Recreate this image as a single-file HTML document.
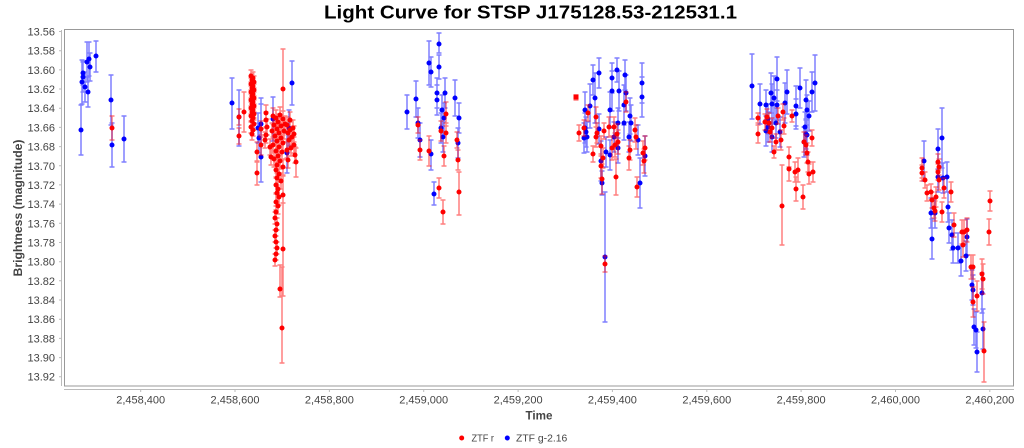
<!DOCTYPE html>
<html><head><meta charset="utf-8"><style>
html,body{margin:0;padding:0;background:#fff;}
svg{display:block;font-family:"Liberation Sans",Arial,sans-serif;}
</style></head><body>
<svg width="1024" height="448" viewBox="0 0 1024 448" xmlns="http://www.w3.org/2000/svg">
<rect width="1024" height="448" fill="#fff"/>
<text x="530.5" y="18.5" font-size="18" font-weight="bold" text-anchor="middle" textLength="413" lengthAdjust="spacingAndGlyphs" fill="#000">Light Curve for STSP J175128.53-212531.1</text>
<rect x="64.5" y="29.5" width="949" height="356.5" fill="#fff" stroke="#999" stroke-width="1"/>
<!-- axes -->
<path d="M61.5 30V386M64 389.5H1014" stroke="#bbb" stroke-width="1" fill="none"/>
<path d="M59 31.5h2.5M59 50.7h2.5M59 69.9h2.5M59 89h2.5M59 108.2h2.5M59 127.4h2.5M59 146.6h2.5M59 165.8h2.5M59 184.9h2.5M59 204.1h2.5M59 223.3h2.5M59 242.5h2.5M59 261.7h2.5M59 280.8h2.5M59 300h2.5M59 319.2h2.5M59 338.4h2.5M59 357.6h2.5M59 376.7h2.5M140.7 389.5v2.5M235 389.5v2.5M329.4 389.5v2.5M423.7 389.5v2.5M518.1 389.5v2.5M612.4 389.5v2.5M706.8 389.5v2.5M801.1 389.5v2.5M895.5 389.5v2.5M989.8 389.5v2.5" stroke="#bbb" stroke-width="1" fill="none"/>
<g font-size="11" fill="#444" text-anchor="end">
<text x="55" y="35.5">13.56</text><text x="55" y="54.7">13.58</text><text x="55" y="73.9">13.60</text><text x="55" y="93">13.62</text><text x="55" y="112.2">13.64</text><text x="55" y="131.4">13.66</text><text x="55" y="150.6">13.68</text><text x="55" y="169.8">13.70</text><text x="55" y="188.9">13.72</text><text x="55" y="208.1">13.74</text><text x="55" y="227.3">13.76</text><text x="55" y="246.5">13.78</text><text x="55" y="265.7">13.80</text><text x="55" y="284.8">13.82</text><text x="55" y="304">13.84</text><text x="55" y="323.2">13.86</text><text x="55" y="342.4">13.88</text><text x="55" y="361.6">13.90</text><text x="55" y="380.7">13.92</text>
</g>
<g font-size="11" fill="#444" text-anchor="middle">
<text x="140.7" y="403.5">2,458,400</text><text x="235" y="403.5">2,458,600</text><text x="329.4" y="403.5">2,458,800</text><text x="423.7" y="403.5">2,459,000</text><text x="518.1" y="403.5">2,459,200</text><text x="612.4" y="403.5">2,459,400</text><text x="706.8" y="403.5">2,459,600</text><text x="801.1" y="403.5">2,459,800</text><text x="895.5" y="403.5">2,460,000</text><text x="989.8" y="403.5">2,460,200</text>
</g>
<text x="539" y="419.5" font-size="12" font-weight="bold" fill="#444" text-anchor="middle" textLength="27" lengthAdjust="spacingAndGlyphs">Time</text>
<text transform="translate(22,208) rotate(-90)" font-size="12" font-weight="bold" fill="#444" text-anchor="middle" textLength="137" lengthAdjust="spacingAndGlyphs">Brightness (magnitude)</text>

<!-- blue series error bars -->
<path fill="none" stroke="#0000ff" stroke-opacity="0.5" stroke-width="1.5" d="M81 105V155M78.5 105h5M78.5 155h5M82 60V104M79.5 60h5M79.5 104h5M83 61V85M80.5 61h5M80.5 85h5M83 62V92M80.5 62h5M80.5 92h5M85 72V102M82.5 72h5M82.5 102h5M87 42V82M84.5 42h5M84.5 82h5M89 42V76M86.5 42h5M86.5 76h5M88 77V107M85.5 77h5M85.5 107h5M90 53V81M87.5 53h5M87.5 81h5M96 41V72M93.5 41h5M93.5 72h5M111 75V125M108.5 75h5M108.5 125h5M112 123V167M109.5 123h5M109.5 167h5M124 116V162M121.5 116h5M121.5 162h5
M232 78V129M229.5 78h5M229.5 129h5M239 90V146M236.5 90h5M236.5 146h5M258 113V143M255.5 113h5M255.5 143h5M259 123V153M256.5 123h5M256.5 153h5M261 104V144M258.5 104h5M258.5 144h5M261 98V182M258.5 98h5M258.5 182h5M273 97V141M270.5 97h5M270.5 141h5M292 61V105M289.5 61h5M289.5 105h5M287 133V173M284.5 133h5M284.5 173h5M289 110V146M286.5 110h5M286.5 146h5
M407 95V129M404.5 95h5M404.5 129h5M416 81V117M413.5 81h5M413.5 117h5M418 108V138M415.5 108h5M415.5 138h5M420 123V157M417.5 123h5M417.5 157h5M429 41V85M426.5 41h5M426.5 85h5M431 57V87M428.5 57h5M428.5 87h5M431 140V170M428.5 140h5M428.5 170h5M434 182V205M431.5 182h5M431.5 205h5M439 33V53M436.5 33h5M436.5 53h5M439 55V79M436.5 55h5M436.5 79h5M437 78V108M434.5 78h5M434.5 108h5M437 85V115M434.5 85h5M434.5 115h5M441 113V143M438.5 113h5M438.5 143h5M443 122V152M440.5 122h5M440.5 152h5M445 78V108M442.5 78h5M442.5 108h5M444 103V133M441.5 103h5M441.5 133h5M442 95V125M439.5 95h5M439.5 125h5M455 80V116M452.5 80h5M452.5 116h5M458 128V158M455.5 128h5M455.5 158h5M459 103V133M456.5 103h5M456.5 133h5
M585 92V128M582.5 92h5M582.5 128h5M585 113V143M582.5 113h5M582.5 143h5M586 117V147M583.5 117h5M583.5 147h5M584 123V153M581.5 123h5M581.5 153h5M587 122V152M584.5 122h5M584.5 152h5M590 84V128M587.5 84h5M587.5 128h5M595 73V123M592.5 73h5M592.5 123h5M599 114V144M596.5 114h5M596.5 144h5M601 141V181M598.5 141h5M598.5 181h5M602 171V195M599.5 171h5M599.5 195h5M605 192V322M602.5 192h5M602.5 322h5M606 137V167M603.5 137h5M603.5 167h5M610 140V170M607.5 140h5M607.5 170h5M610 92V128M607.5 92h5M607.5 128h5M612 71V111M609.5 71h5M609.5 111h5M614 122V152M611.5 122h5M611.5 152h5M618 108V138M615.5 108h5M615.5 138h5M618 133V163M615.5 133h5M615.5 163h5M619 71V111M616.5 71h5M616.5 111h5M624 106V140M621.5 106h5M621.5 140h5M624 85V125M621.5 85h5M621.5 125h5M626 75V111M623.5 75h5M623.5 111h5M630 98V134M627.5 98h5M627.5 134h5M631 105V141M628.5 105h5M628.5 141h5M629 122V152M626.5 122h5M626.5 152h5M638 125V155M635.5 125h5M635.5 155h5M640 158V208M637.5 158h5M637.5 208h5M642 63V103M639.5 63h5M639.5 103h5M642 77V117M639.5 77h5M639.5 117h5M645 136V176M642.5 136h5M642.5 176h5M599 58V88M596.5 58h5M596.5 88h5M612 63V93M609.5 63h5M609.5 93h5M617 58V82M614.5 58h5M614.5 82h5M593 65V95M590.5 65h5M590.5 95h5M625 60V90M622.5 60h5M622.5 90h5
M752 54V119M749.5 54h5M749.5 119h5M760 84V124M757.5 84h5M757.5 124h5M766 90V120M763.5 90h5M763.5 120h5M768 104V134M765.5 104h5M765.5 134h5M768 112V142M765.5 112h5M765.5 142h5M771 73V113M768.5 73h5M768.5 113h5M772 84V124M769.5 84h5M769.5 124h5M774 76V120M771.5 76h5M771.5 120h5M766 116V146M763.5 116h5M763.5 146h5M772 122V152M769.5 122h5M769.5 152h5M777 57V101M774.5 57h5M774.5 101h5M777 90V120M774.5 90h5M774.5 120h5M776 108V138M773.5 108h5M773.5 138h5M780 117V147M777.5 117h5M777.5 147h5M785 83V123M782.5 83h5M782.5 123h5M787 70V114M784.5 70h5M784.5 114h5M796 86V126M793.5 86h5M793.5 126h5M796 99V129M793.5 99h5M793.5 129h5M800 68V108M797.5 68h5M797.5 108h5M806 80V120M803.5 80h5M803.5 120h5M805 112V142M802.5 112h5M802.5 142h5M806 119V149M803.5 119h5M803.5 149h5M807 95V125M804.5 95h5M804.5 125h5M804 127V157M801.5 127h5M801.5 157h5M809 101V131M806.5 101h5M806.5 131h5M812 72V112M809.5 72h5M809.5 112h5M815 55V111M812.5 55h5M812.5 111h5M807 115V155M804.5 115h5M804.5 155h5
M924 141V181M921.5 141h5M921.5 181h5M931 198V228M928.5 198h5M928.5 228h5M932 219V259M929.5 219h5M929.5 259h5M935 198V228M932.5 198h5M932.5 228h5M938 129V169M935.5 129h5M935.5 169h5M942 108V168M939.5 108h5M939.5 168h5M938 162V192M935.5 162h5M935.5 192h5M943 163V193M940.5 163h5M940.5 193h5M947 162V192M944.5 162h5M944.5 192h5M948 192V222M945.5 192h5M945.5 222h5M949 213V243M946.5 213h5M946.5 243h5M952 220V250M949.5 220h5M949.5 250h5M953 233V263M950.5 233h5M950.5 263h5M958 233V263M955.5 233h5M955.5 263h5M961 246V276M958.5 246h5M958.5 276h5M966 241V271M963.5 241h5M963.5 271h5M967 219V255M964.5 219h5M964.5 255h5M972 270V300M969.5 270h5M969.5 300h5M973 275V305M970.5 275h5M970.5 305h5M974 309V345M971.5 309h5M971.5 345h5M976 312V348M973.5 312h5M973.5 348h5M977 332V372M974.5 332h5M974.5 372h5M982 273V313M979.5 273h5M979.5 313h5M983 309V349M980.5 309h5M980.5 349h5"/>
<!-- blue dots -->
<path fill="none" stroke="#0000ff" stroke-width="5" stroke-linecap="round" d="M81 130h0M82 82h0M83 73h0M83 77h0M85 87h0M87 62h0M89 59h0M88 92h0M90 67h0M96 56h0M111 100h0M112 145h0M124 139h0M232 103h0M239 117h0M258 128h0M259 138h0M261 124h0M261 157h0M273 119h0M292 83h0M287 153h0M289 128h0M407 112h0M416 99h0M418 123h0M420 140h0M429 63h0M431 72h0M431 154h0M434 194h0M439 44h0M439 67h0M437 93h0M437 100h0M441 128h0M443 137h0M445 93h0M444 118h0M442 110h0M455 98h0M458 143h0M459 118h0M585 110h0M585 128h0M586 132h0M584 138h0M587 137h0M590 106h0M595 98h0M599 129h0M601 161h0M602 183h0M605 257h0M606 152h0M610 155h0M610 110h0M612 91h0M614 137h0M618 123h0M618 148h0M619 91h0M624 123h0M624 105h0M626 93h0M630 116h0M631 123h0M629 137h0M638 140h0M640 183h0M642 83h0M642 97h0M645 156h0M599 73h0M612 78h0M617 70h0M593 80h0M625 75h0M752 86h0M760 104h0M766 105h0M768 119h0M768 127h0M771 93h0M772 104h0M774 98h0M766 131h0M772 137h0M777 79h0M777 105h0M776 123h0M780 132h0M785 103h0M787 92h0M796 106h0M796 114h0M800 88h0M806 100h0M805 127h0M806 134h0M807 110h0M804 142h0M809 116h0M812 92h0M815 83h0M807 135h0M924 161h0M931 213h0M932 239h0M935 213h0M938 149h0M942 138h0M938 177h0M943 178h0M947 177h0M948 207h0M949 228h0M952 235h0M953 248h0M958 248h0M961 261h0M966 256h0M967 237h0M972 285h0M973 290h0M974 327h0M976 330h0M977 352h0M982 293h0M983 329h0"/>

<!-- red series error bars -->
<path fill="none" stroke="#ff0000" stroke-opacity="0.5" stroke-width="1.5" d="M112 116V140M109.5 116h5M109.5 140h5
M239 109V125M236.5 109h5M236.5 125h5M239 128V144M236.5 128h5M236.5 144h5M244 92V132M241.5 92h5M241.5 132h5
M251 70V82M248.5 70h5M248.5 82h5M253 72V84M250.5 72h5M250.5 84h5M252 74V86M249.5 74h5M249.5 86h5M254 76V88M251.5 76h5M251.5 88h5M251 78V90M248.5 78h5M248.5 90h5M253 80V92M250.5 80h5M250.5 92h5M252 82V94M249.5 82h5M249.5 94h5M254 84V96M251.5 84h5M251.5 96h5M251 86V98M248.5 86h5M248.5 98h5M253 88V100M250.5 88h5M250.5 100h5M252 90V102M249.5 90h5M249.5 102h5M254 92V104M251.5 92h5M251.5 104h5M251 94V106M248.5 94h5M248.5 106h5M253 96V108M250.5 96h5M250.5 108h5M252 98V110M249.5 98h5M249.5 110h5M254 100V112M251.5 100h5M251.5 112h5M251 102V114M248.5 102h5M248.5 114h5M253 104V116M250.5 104h5M250.5 116h5M252 106V118M249.5 106h5M249.5 118h5M254 108V120M251.5 108h5M251.5 120h5M251 110V122M248.5 110h5M248.5 122h5M253 112V124M250.5 112h5M250.5 124h5M252 115V127M249.5 115h5M249.5 127h5M254 118V130M251.5 118h5M251.5 130h5M251 121V133M248.5 121h5M248.5 133h5M253 124V136M250.5 124h5M250.5 136h5M252 128V140M249.5 128h5M249.5 140h5
M257 161V185M254.5 161h5M254.5 185h5M257 142V162M254.5 142h5M254.5 162h5M261 135V155M258.5 135h5M258.5 155h5M261 121V137M258.5 121h5M258.5 137h5M266 105V121M263.5 105h5M263.5 121h5M266 112V128M263.5 112h5M263.5 128h5M267 119V135M264.5 119h5M264.5 135h5M266 127V143M263.5 127h5M263.5 143h5M265 132V148M262.5 132h5M262.5 148h5M270 139V155M267.5 139h5M267.5 155h5M271 149V165M268.5 149h5M268.5 165h5
M273 108V124M270.5 108h5M270.5 124h5M276 110V126M273.5 110h5M273.5 126h5M280 107V123M277.5 107h5M277.5 123h5M283 111V127M280.5 111h5M280.5 127h5M278 114V130M275.5 114h5M275.5 130h5M274 117V133M271.5 117h5M271.5 133h5M281 118V134M278.5 118h5M278.5 134h5M285 116V132M282.5 116h5M282.5 132h5M277 121V137M274.5 121h5M274.5 137h5M272 123V139M269.5 123h5M269.5 139h5M279 125V141M276.5 125h5M276.5 141h5M284 123V139M281.5 123h5M281.5 139h5M275 128V144M272.5 128h5M272.5 144h5M281 130V146M278.5 130h5M278.5 146h5M277 133V149M274.5 133h5M274.5 149h5M283 135V151M280.5 135h5M280.5 151h5M273 137V153M270.5 137h5M270.5 153h5M279 139V155M276.5 139h5M276.5 155h5M276 143V159M273.5 143h5M273.5 159h5M282 144V160M279.5 144h5M279.5 160h5M278 148V164M275.5 148h5M275.5 164h5M274 151V167M271.5 151h5M271.5 167h5M280 153V169M277.5 153h5M277.5 169h5M277 157V173M274.5 157h5M274.5 173h5M283 159V175M280.5 159h5M280.5 175h5M276 162V178M273.5 162h5M273.5 178h5M279 166V182M276.5 166h5M276.5 182h5M277 170V186M274.5 170h5M274.5 186h5M281 173V189M278.5 173h5M278.5 189h5M276 177V193M273.5 177h5M273.5 193h5M278 181V197M275.5 181h5M275.5 197h5M277 185V201M274.5 185h5M274.5 201h5M279 189V205M276.5 189h5M276.5 205h5M276 194V210M273.5 194h5M273.5 210h5M278 198V214M275.5 198h5M275.5 214h5
M276 206V218M273.5 206h5M273.5 218h5M275 212V224M272.5 212h5M272.5 224h5M277 218V230M274.5 218h5M274.5 230h5M276 224V236M273.5 224h5M273.5 236h5M275 230V242M272.5 230h5M272.5 242h5M276 236V248M273.5 236h5M273.5 248h5M277 242V254M274.5 242h5M274.5 254h5M276 248V260M273.5 248h5M273.5 260h5M275 254V266M272.5 254h5M272.5 266h5M280 265V297M277.5 265h5M277.5 297h5M282 267V363M279.5 267h5M279.5 363h5M283 49V128M280.5 49h5M280.5 128h5M283 176V203M280.5 176h5M280.5 203h5M283 203V296M280.5 203h5M280.5 296h5
M287 117V133M284.5 117h5M284.5 133h5M288 125V141M285.5 125h5M285.5 141h5M289 132V148M286.5 132h5M286.5 148h5M290 122V138M287.5 122h5M287.5 138h5M291 140V156M288.5 140h5M288.5 156h5M292 129V145M289.5 129h5M289.5 145h5M293 120V136M290.5 120h5M290.5 136h5M294 137V153M291.5 137h5M291.5 153h5M295 147V163M292.5 147h5M292.5 163h5M296 148V177M293.5 148h5M293.5 177h5M288 152V168M285.5 152h5M285.5 168h5M290 112V128M287.5 112h5M287.5 128h5M294 126V142M291.5 126h5M291.5 142h5M287 142V158M284.5 142h5M284.5 158h5
M418 117V133M415.5 117h5M415.5 133h5M420 140V160M417.5 140h5M417.5 160h5M429 136V166M426.5 136h5M426.5 166h5M439 178V198M436.5 178h5M436.5 198h5M443 200V224M440.5 200h5M440.5 224h5M441 121V141M438.5 121h5M438.5 141h5M444 146V166M441.5 146h5M441.5 166h5M446 102V126M443.5 102h5M443.5 126h5M446 123V143M443.5 123h5M443.5 143h5M457 132V148M454.5 132h5M454.5 148h5M458 150V170M455.5 150h5M455.5 170h5M459 172V215M456.5 172h5M456.5 215h5
M576 95V100M573.5 95h5M573.5 100h5M588 105V121M585.5 105h5M585.5 121h5M584 120V136M581.5 120h5M581.5 136h5M579 125V141M576.5 125h5M576.5 141h5M593 146V162M590.5 146h5M590.5 162h5M596 107V127M593.5 107h5M593.5 127h5M597 123V143M594.5 123h5M594.5 143h5M596 127V147M593.5 127h5M593.5 147h5M601 136V156M598.5 136h5M598.5 156h5M601 154V178M598.5 154h5M598.5 178h5M602 164V194M599.5 164h5M599.5 194h5M604 123V139M601.5 123h5M601.5 139h5M605 256V272M602.5 256h5M602.5 272h5M603 148V168M600.5 148h5M600.5 168h5M609 117V137M606.5 117h5M606.5 137h5M612 136V160M609.5 136h5M609.5 160h5M614 117V137M611.5 117h5M611.5 137h5M615 133V157M612.5 133h5M612.5 157h5M616 159V195M613.5 159h5M613.5 195h5M618 130V154M615.5 130h5M615.5 154h5M617 124V144M614.5 124h5M614.5 144h5M626 92V112M623.5 92h5M623.5 112h5M630 140V160M627.5 140h5M627.5 160h5M629 146V170M626.5 146h5M626.5 170h5M635 118V142M632.5 118h5M632.5 142h5M636 125V149M633.5 125h5M633.5 149h5M637 177V197M634.5 177h5M634.5 197h5M645 136V160M642.5 136h5M642.5 160h5M643 141V165M640.5 141h5M640.5 165h5M644 149V173M641.5 149h5M641.5 173h5
M758 113V123M755.5 113h5M755.5 123h5M758 125V143M755.5 125h5M755.5 143h5M765 114V130M762.5 114h5M762.5 130h5M767 109V125M764.5 109h5M764.5 125h5M769 113V133M766.5 113h5M766.5 133h5M770 122V142M767.5 122h5M767.5 142h5M772 118V138M769.5 118h5M769.5 138h5M778 108V124M775.5 108h5M775.5 124h5M776 134V150M773.5 134h5M773.5 150h5M774 146V158M771.5 146h5M771.5 158h5M781 130V150M778.5 130h5M778.5 150h5M783 104V120M780.5 104h5M780.5 120h5M784 118V134M781.5 118h5M781.5 134h5M782 165V245M779.5 165h5M779.5 245h5M789 147V167M786.5 147h5M786.5 167h5M789 157V181M786.5 157h5M786.5 181h5M792 110V122M789.5 110h5M789.5 122h5M795 162V182M792.5 162h5M792.5 182h5M798 158V182M795.5 158h5M795.5 182h5M796 177V201M793.5 177h5M793.5 201h5M803 185V209M800.5 185h5M800.5 209h5M804 132V152M801.5 132h5M801.5 152h5M806 135V155M803.5 135h5M803.5 155h5M807 143V163M804.5 143h5M804.5 163h5M808 152V172M805.5 152h5M805.5 172h5M809 164V184M806.5 164h5M806.5 184h5M812 130V146M809.5 130h5M809.5 146h5M813 162V182M810.5 162h5M810.5 182h5
M922 158V178M919.5 158h5M919.5 178h5M922 165V181M919.5 165h5M919.5 181h5M925 172V188M922.5 172h5M922.5 188h5M927 185V201M924.5 185h5M924.5 201h5M931 184V200M928.5 184h5M928.5 200h5M932 192V208M929.5 192h5M929.5 208h5M934 198V218M931.5 198h5M931.5 218h5M935 201V221M932.5 201h5M932.5 221h5M936 187V207M933.5 187h5M933.5 207h5M938 154V170M935.5 154h5M935.5 170h5M939 159V175M936.5 159h5M936.5 175h5M938 164V180M935.5 164h5M935.5 180h5M939 170V190M936.5 170h5M936.5 190h5M944 178V198M941.5 178h5M941.5 198h5M942 202V222M939.5 202h5M939.5 222h5M951 182V202M948.5 182h5M948.5 202h5M954 213V237M951.5 213h5M951.5 237h5M962 220V244M959.5 220h5M959.5 244h5M964 220V244M961.5 220h5M961.5 244h5M967 218V242M964.5 218h5M964.5 242h5M963 233V257M960.5 233h5M960.5 257h5M971 255V279M968.5 255h5M968.5 279h5M973 255V279M970.5 255h5M970.5 279h5M973 287V317M970.5 287h5M970.5 317h5M977 281V311M974.5 281h5M974.5 311h5M982 259V289M979.5 259h5M979.5 289h5M983 264V294M980.5 264h5M980.5 294h5M984 322V382M981.5 322h5M981.5 382h5M990 191V211M987.5 191h5M987.5 211h5M989 219V245M986.5 219h5M986.5 245h5"/>
<!-- red dots -->
<path fill="none" stroke="#ff0000" stroke-width="5" stroke-linecap="round" d="M112 128h0M239 117h0M239 136h0M244 112h0M251 76h0M253 78h0M252 80h0M254 82h0M251 84h0M253 86h0M252 88h0M254 90h0M251 92h0M253 94h0M252 96h0M254 98h0M251 100h0M253 102h0M252 104h0M254 106h0M251 108h0M253 110h0M252 112h0M254 114h0M251 116h0M253 118h0M252 121h0M254 124h0M251 127h0M253 130h0M252 134h0M257 173h0M257 152h0M261 145h0M261 129h0M266 113h0M266 120h0M267 127h0M266 135h0M265 140h0M270 147h0M271 157h0M273 116h0M276 118h0M280 115h0M283 119h0M278 122h0M274 125h0M281 126h0M285 124h0M277 129h0M272 131h0M279 133h0M284 131h0M275 136h0M281 138h0M277 141h0M283 143h0M273 145h0M279 147h0M276 151h0M282 152h0M278 156h0M274 159h0M280 161h0M277 165h0M283 167h0M276 170h0M279 174h0M277 178h0M281 181h0M276 185h0M278 189h0M277 193h0M279 197h0M276 202h0M278 206h0M276 212h0M275 218h0M277 224h0M276 230h0M275 236h0M276 242h0M277 248h0M276 254h0M275 260h0M280 289h0M282 328h0M283 89h0M283 195h0M283 249h0M287 125h0M288 133h0M289 140h0M290 130h0M291 148h0M292 137h0M293 128h0M294 145h0M295 155h0M296 162h0M288 160h0M290 120h0M294 134h0M287 150h0M418 125h0M420 150h0M429 151h0M439 188h0M443 212h0M441 131h0M444 156h0M446 114h0M446 133h0M457 140h0M458 160h0M459 192h0M584 128h0M588 113h0M579 133h0M593 154h0M596 117h0M597 133h0M596 137h0M601 146h0M601 166h0M602 179h0M604 131h0M605 264h0M603 158h0M609 127h0M612 148h0M614 127h0M615 145h0M616 177h0M618 142h0M617 134h0M626 102h0M630 150h0M629 158h0M635 130h0M636 137h0M637 187h0M645 148h0M643 153h0M644 161h0M758 118h0M758 134h0M765 122h0M767 117h0M769 123h0M770 132h0M772 128h0M778 116h0M776 142h0M774 152h0M781 140h0M783 112h0M784 126h0M782 206h0M789 157h0M789 169h0M792 116h0M795 172h0M798 170h0M796 189h0M803 197h0M804 142h0M806 145h0M807 153h0M808 162h0M809 174h0M812 138h0M813 172h0M922 168h0M922 173h0M925 180h0M927 193h0M931 192h0M932 200h0M934 208h0M935 211h0M936 197h0M938 162h0M939 167h0M938 172h0M939 180h0M944 188h0M942 212h0M951 192h0M954 225h0M962 232h0M964 232h0M967 230h0M963 245h0M971 267h0M973 267h0M973 302h0M977 296h0M982 274h0M983 279h0M984 351h0M990 201h0M989 232h0"/>
<rect x="573.5" y="94.5" width="5" height="5" fill="#ff0000"/>

<!-- legend -->
<circle cx="461.7" cy="438" r="2.5" fill="#ff0000"/>
<text x="471.5" y="441.7" font-size="10.5" fill="#444" textLength="22.5" lengthAdjust="spacingAndGlyphs">ZTF r</text>
<circle cx="507.3" cy="438" r="2.5" fill="#0000ff"/>
<text x="516" y="441.7" font-size="10.5" fill="#444" textLength="51.3" lengthAdjust="spacingAndGlyphs">ZTF g-2.16</text>
</svg>
</body></html>
